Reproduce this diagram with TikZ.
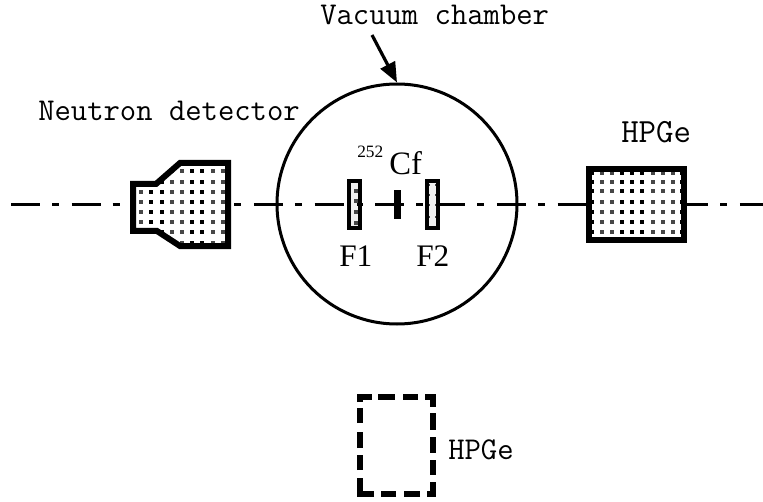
\documentclass[tikz,border=0pt]{standalone}
\usepackage{fontspec}
\setmainfont{Liberation Serif}
\usetikzlibrary{arrows.meta}
\tikzset{
  monolabel/.style={inner sep=0pt,anchor=base west,font=\ttfamily\fontsize{23.8pt}{26pt}\selectfont},
  seriflabel/.style={inner sep=0pt,anchor=base west,font=\fontsize{23.5pt}{27pt}\selectfont},
  axisline/.style={line width=2.1pt,dash pattern=on 21.75pt off 9pt on 5.25pt off 9.56pt},
  thickbox/.style={draw=black,line width=4.5pt,miter limit=10},
  thinbox/.style={draw=black,line width=2.6pt},
  chamberc/.style={circle,draw=black,line width=2.25pt,minimum size=180pt,inner sep=0pt},
  dashbox/.style={line width=3.9pt},
  grain/.style={fill=black!72},
  grainb/.style={fill=black},
}
\newcommand{\grainat}[3]{\fill[#1] (#2-2.3,#3-1.6) rectangle (#2+2.3,#3+1.6);}
\begin{document}
\begin{tikzpicture}[x=0.75pt,y=-0.75pt]
\useasboundingbox (0,0) rectangle (763,502);
\coordinate (axisL) at (11,204.5);
\coordinate (axisR) at (763,204.5);
\coordinate (arrowstart) at (372,35);
\draw[axisline] (axisL) -- (axisR);
% chamber
\node[chamberc] (chamber) at (397,204) {};
% arrow
\draw[line width=2.4pt,-{Triangle[length=15pt,width=12pt]}] (arrowstart) -- (chamber.north);
% neutron detector
\path[fill=white] (133,184) -- (156,184) -- (180,163) -- (228,163) -- (228,246) -- (180,246) -- (157,231) -- (133,231) -- cycle;
\begin{scope}
\clip (133,184) -- (156,184) -- (180,163) -- (228,163) -- (228,246) -- (180,246) -- (157,231) -- (133,231) -- cycle;
\foreach \y in {171,182,192,202,212,222,232,243}{
  \foreach \x in {141,172,182,213,223}{\grainat{grain}{\x}{\y}}
  \foreach \x in {151,162,192,202}{\grainat{grainb}{\x}{\y}}
}
\end{scope}
\draw[thickbox] (133,184) -- (156,184) -- (180,163) -- (228,163) -- (228,246) -- (180,246) -- (157,231) -- (133,231) -- cycle;
% upper HPGe
\path[fill=white] (589,169) rectangle (684,240);
\foreach \y in {173,182,191,202,212,222,232}{
  \foreach \x in {602,612,653,663,673}{\grainat{grain}{\x}{\y}}
  \foreach \x in {592,622,632,642,682}{\grainat{grainb}{\x}{\y}}
}
\draw[thickbox] (589,169) rectangle (684,240);
% F1 and F2
\path[fill=black!6] (349,181) rectangle (360,228);
\foreach \y in {191,201,212,223}{\grainat{grain}{356}{\y}}
\fill (357,203.3) rectangle (362,205.7);
\draw[thinbox] (349,181) rectangle (360,228);
\path[fill=black!6] (427,181) rectangle (438,228);
\foreach \y in {185,195,205,217,227}{\fill[grain] (428,\y-1.3) rectangle (430,\y+1.3);\fill[grain] (435,\y-1.3) rectangle (437,\y+1.3);}
\draw[thinbox] (427,181) rectangle (438,228);
% source tick
\fill (394,190) rectangle (400.5,219);
% labels
\node[monolabel] (vac) at (320,25) {Vacuum chamber};
\node[monolabel] (nd) at (38,121) {Neutron detector};
\node[monolabel,font=\ttfamily\fontsize{25.4pt}{28pt}\selectfont] (hp1) at (621,143) {HPGe};
\node[monolabel] (hp2) at (448,459) {HPGe};
\node[inner sep=0pt,anchor=base west,font=\fontsize{13pt}{15pt}\selectfont] (a252) at (357,158) {252};
\node[seriflabel,font=\fontsize{24.5pt}{28pt}\selectfont] (cf) at (389,175) {Cf};
\node[seriflabel] (f1) at (339,266) {F1};
\node[seriflabel] (f2) at (416,266) {F2};
% dashed HPGe
\begin{scope}[dashbox]
\draw (358,397) -- (372,397);
\draw (378,397) -- (395,397);
\draw (403,397) -- (418,397);
\draw (425,397) -- (433,397) -- (433,407);
\draw (433,413) -- (433,430);
\draw (433,437) -- (433,453);
\draw (433,460) -- (433,475);
\draw (433,482) -- (433,494) -- (427,494);
\draw (420,494) -- (404,494);
\draw (396,494) -- (381,494);
\draw (374,494) -- (360,494) -- (360,478);
\draw (360,470) -- (360,455);
\draw (360,448) -- (360,432);
\draw (360,423) -- (360,408);
\draw (360,402) -- (360,394);
\end{scope}
\end{tikzpicture}
\end{document}
